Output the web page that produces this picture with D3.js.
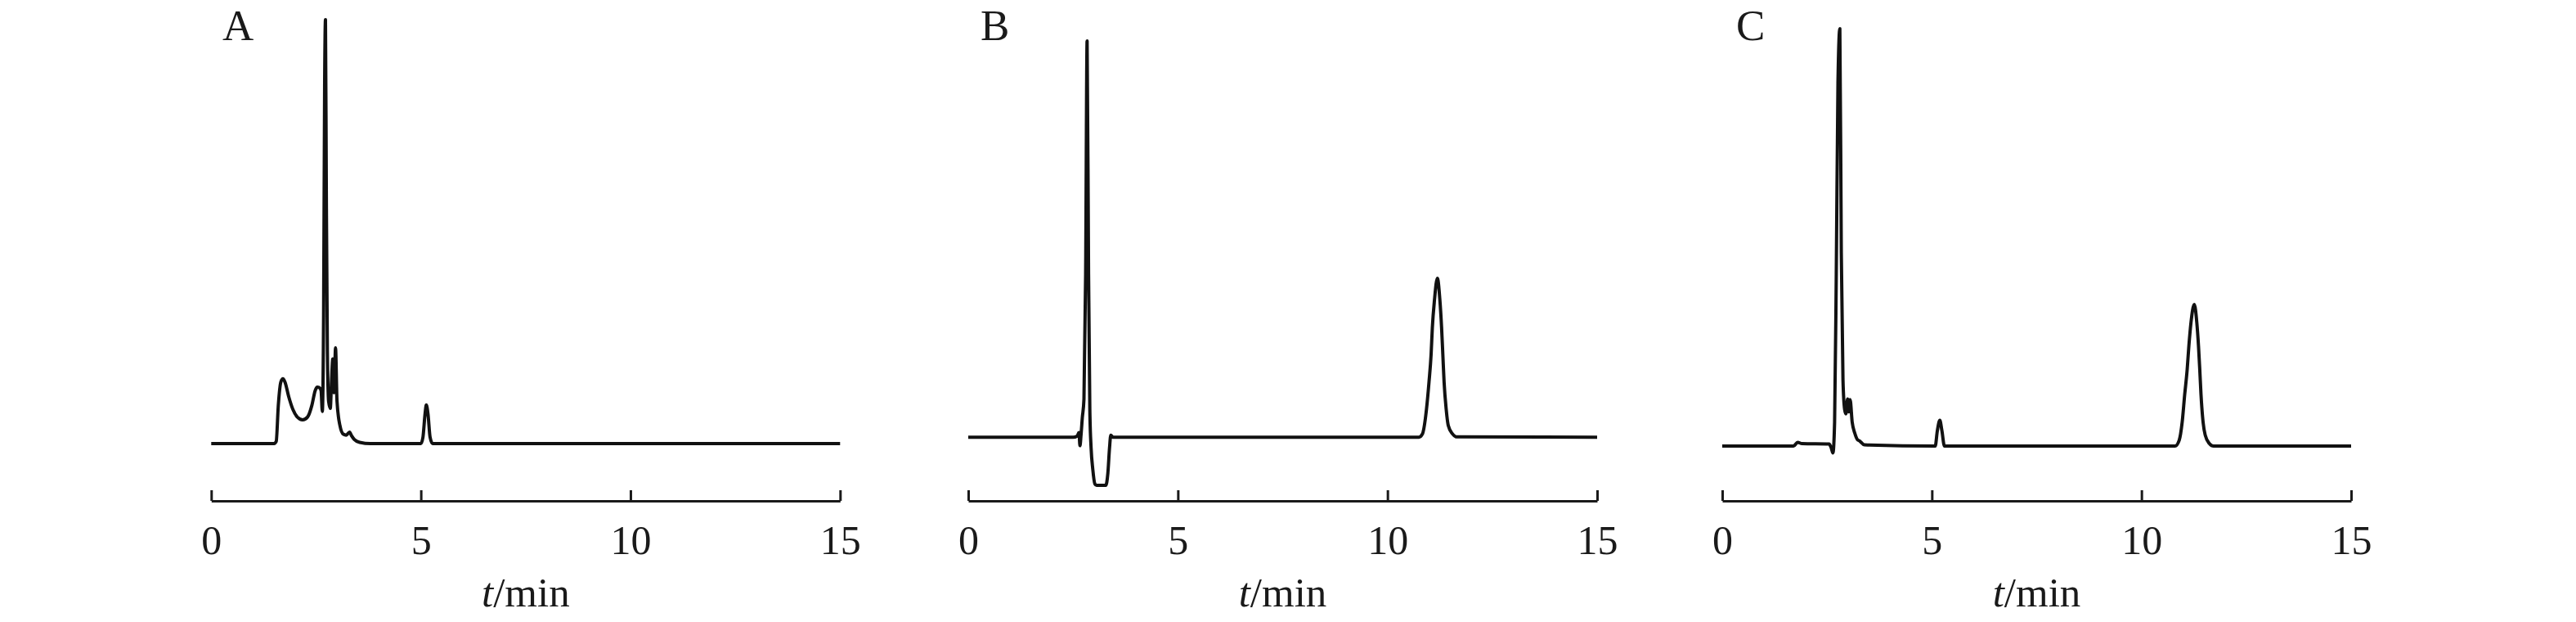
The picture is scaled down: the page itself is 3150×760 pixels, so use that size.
<!DOCTYPE html>
<html>
<head>
<meta charset="utf-8">
<script src="https://cdn.jsdelivr.net/npm/d3@7"></script>
<style>
  html, body { margin: 0; padding: 0; background: #fff; }
  svg { display: block; }
  text { font-family: "Liberation Serif", "Times New Roman", serif; fill: #1a1a1a; }
</style>
</head>
<body>
<svg id="chart" width="3150" height="760"></svg>
<script>
// ---- Data (retention time in min, detector response in relative units; baseline ~ 0) ----
const panelLabels = ["A", "B", "C"];
const xTicks = [0, 5, 10, 15];
const xTickLabels = ["0", "5", "10", "15"];
const xAxisTitle = ["t", "/min"];

const timeA = [0, 1.50, 1.55, 1.60, 1.66, 1.71, 1.76, 1.85, 1.95, 2.05, 2.18, 2.30, 2.40, 2.48, 2.53, 2.58, 2.62, 2.65, 2.68, 2.705, 2.725, 2.745, 2.77, 2.80, 2.84, 2.87, 2.90, 2.93, 2.965, 3.00, 3.07, 3.15, 3.22, 3.30, 3.35, 3.41, 3.54, 3.80, 5.00, 5.05, 5.10, 5.13, 5.17, 5.22, 5.28, 15];
const valueA = [0, 0, 0.5, 9, 14.5, 15.3, 14.5, 11, 8, 6.3, 5.6, 6.3, 9, 12.5, 13.3, 13.2, 12.5, 7.6, 30, 85, 100, 60, 22, 10, 8.3, 15, 20, 12, 22.6, 10, 4.25, 2.2, 2.0, 2.7, 1.8, 1.0, 0.3, 0, 0, 1.5, 7, 9.1, 7, 1.5, 0, 0];

const timeB = [0, 2.50, 2.60, 2.64, 2.665, 2.69, 2.72, 2.76, 2.80, 2.835, 2.87, 2.90, 2.93, 2.97, 3.02, 3.06, 3.28, 3.33, 3.37, 3.40, 3.45, 10.75, 10.83, 10.93, 10.99, 11.04, 11.07, 11.12, 11.19, 11.25, 11.29, 11.32, 11.35, 11.40, 11.45, 11.55, 11.64, 15];
const valueB = [1.5, 1.5, 1.8, 2.6, -0.5, 2.0, 6, 10.5, 40, 95, 40, 8, -1, -6, -9.5, -9.85, -9.85, -7, -1, 2.0, 1.5, 1.5, 2.2, 8.1, 14.5, 21, 27.4, 33.8, 39, 33.8, 27.4, 21, 14.5, 8.1, 4.25, 2.3, 1.6, 1.5];

const timeC = [0, 1.70, 1.80, 1.90, 2.55, 2.60, 2.64, 2.68, 2.72, 2.76, 2.805, 2.84, 2.88, 2.92, 2.95, 2.99, 3.02, 3.05, 3.10, 3.16, 3.22, 3.28, 3.39, 5.08, 5.13, 5.19, 5.24, 5.30, 10.80, 10.90, 10.97, 11.03, 11.09, 11.13, 11.18, 11.26, 11.32, 11.36, 11.39, 11.42, 11.47, 11.52, 11.62, 11.72, 15];
const valueC = [-0.6, -0.6, 0.3, 0.0, -0.1, -1.0, -2.2, 5, 40, 85, 97.9, 45, 15, 8, 7, 10.5, 7.5, 10.4, 5, 2.5, 1.0, 0.6, -0.3, -0.6, 3, 5.5, 3, -0.6, -0.6, 0.8, 5, 11.5, 17.5, 23, 28.5, 32.8, 28.5, 23, 17.5, 11.5, 5, 2.0, 0, -0.6, -0.6];

const series = [
  { label: panelLabels[0], t: timeA, v: valueA },
  { label: panelLabels[1], t: timeB, v: valueB },
  { label: panelLabels[2], t: timeC, v: valueC }
];

// ---- Layout ----
const panelLeft = [258.3, 1184, 2106];
const panelWidth = 769;
const axisY = 612;
const labelX = [272, 1199, 2123];

const svg = d3.select("#chart");

const y = d3.scaleLinear().domain([0, 100]).range([542, 24]);

series.forEach((s, i) => {
  const x = d3.scaleLinear().domain([0, 15]).range([panelLeft[i], panelLeft[i] + panelWidth]);
  const g = svg.append("g");

  const pts = s.t.map((t, k) => [t, s.v[k]]);
  const line = d3.line()
    .x(d => x(d[0]))
    .y(d => y(d[1]))
    .curve(d3.curveMonotoneX);

  g.append("path")
    .attr("d", line(pts))
    .attr("fill", "none")
    .attr("stroke", "#111")
    .attr("stroke-width", 4)
    .attr("stroke-linejoin", "round");

  // axis
  const axis = d3.axisBottom(x)
    .tickValues(xTicks)
    .tickFormat((d, k) => xTickLabels[k])
    .tickSizeInner(-13)
    .tickSizeOuter(0);

  const ag = g.append("g")
    .attr("transform", `translate(0,${axisY})`)
    .call(axis);
  ag.select(".domain").attr("stroke", "#1a1a1a").attr("stroke-width", 3);
  ag.selectAll(".tick line").attr("stroke", "#1a1a1a").attr("stroke-width", 3);
  ag.selectAll(".tick text")
    .attr("y", 65)
    .attr("dy", null)
    .attr("fill", "#1a1a1a")
    .style("font-family", "'Liberation Serif', 'Times New Roman', serif")
    .style("font-size", "50px");

  // axis title
  const title = g.append("text")
    .attr("x", x(7.5))
    .attr("y", 741)
    .attr("text-anchor", "middle")
    .style("font-size", "51px");
  title.append("tspan").attr("font-style", "italic").text(xAxisTitle[0]);
  title.append("tspan").text(xAxisTitle[1]);

  // panel label
  g.append("text")
    .attr("x", labelX[i])
    .attr("y", 49)
    .style("font-size", "53px")
    .text(s.label);
});
</script>
</body>
</html>
